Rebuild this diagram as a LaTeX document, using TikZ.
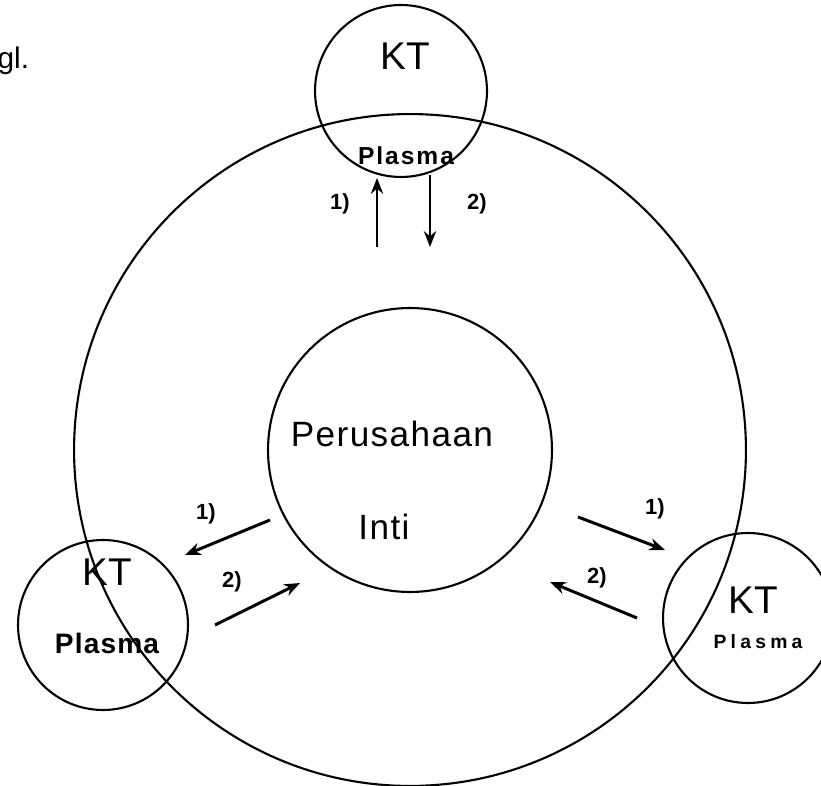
\documentclass[tikz,border=0pt]{standalone}
\usepackage{fontspec}
\setmainfont{Liberation Sans}
\usetikzlibrary{arrows.meta, positioning}

\begin{document}
\begin{tikzpicture}[x=0.02cm, y=-0.02cm, line width=1.2pt,
    orbit/.style={circle, draw, inner sep=0pt},
    flow/.style={-{Stealth[length=9pt, width=7pt]}, line width=1.7pt},
    num/.style={anchor=base, font=\bfseries\fontsize{12.5}{14}\selectfont},
    kt/.style={anchor=base, font=\fontsize{22}{24}\selectfont},
    txt/.style={anchor=base, font=\fontsize{20}{22}\selectfont\addfontfeature{LetterSpace=4}}]
  \useasboundingbox (0,0) rectangle (821,786);
  % big ring and the core company
  \node[orbit, minimum size=13.44cm] (ring) at (410,450) {};
  \node[orbit, minimum size=5.68cm] (inti) at (410,450) {};
  % the three KT circles
  \node[orbit, minimum size=3.44cm] (ktA) at (401,91) {};
  \node[orbit, minimum size=3.4cm] (ktB) at (103,625) {};
  \node[orbit, minimum size=3.4cm] (ktC) at (748,618) {};

  \node[anchor=base east, font=\fontsize{17}{19}\selectfont] (tgl) at (36,69) {gl.};
  \node[txt] (pt) at (392,447) {Perusahaan};
  \node[txt] (pti) at (384,540) {Inti};

  \node[kt] (ktAa) at (405,70) {KT};
  \node[anchor=base, font=\bfseries\fontsize{14}{16}\selectfont\addfontfeature{LetterSpace=8}] (plA) at (406,165) {Plasma};
  \node[kt] (ktBa) at (107,585) {KT};
  \node[anchor=base, font=\bfseries\fontsize{16}{18}\selectfont\addfontfeature{LetterSpace=4}] (plB) at (107,653) {Plasma};
  \node[kt] (ktCa) at (753,613) {KT};
  \node[anchor=base, font=\bfseries\fontsize{11}{12}\selectfont\addfontfeature{LetterSpace=22}] (plC) at (758,648) {Plasma};

  % end points of the flows
  \coordinate (a1s) at (377,247); \coordinate (a1e) at (377,178);
  \coordinate (a2s) at (430,175); \coordinate (a2e) at (430,247);
  \coordinate (b1s) at (270,520); \coordinate (b1e) at (185,555);
  \coordinate (b2s) at (215,625); \coordinate (b2e) at (300,583);
  \coordinate (c1s) at (578,517); \coordinate (c1e) at (665,550);
  \coordinate (c2s) at (637,618); \coordinate (c2e) at (550,582);

  \draw[flow, line width=1.3pt] (a1s) -- (a1e);
  \draw[flow, line width=1.3pt] (a2s) -- (a2e);
  \draw[flow] (b1s) -- (b1e);
  \draw[flow] (b2s) -- (b2e);
  \draw[flow] (c1s) -- (c1e);
  \draw[flow] (c2s) -- (c2e);

  \node[num] (na1) at (340,210) {1)};
  \node[num] (na2) at (477,210) {2)};
  \node[num] (nb1) at (206,520) {1)};
  \node[num] (nb2) at (232,587) {2)};
  \node[num] (nc1) at (655,515) {1)};
  \node[num] (nc2) at (597,583) {2)};
\end{tikzpicture}
\end{document}
